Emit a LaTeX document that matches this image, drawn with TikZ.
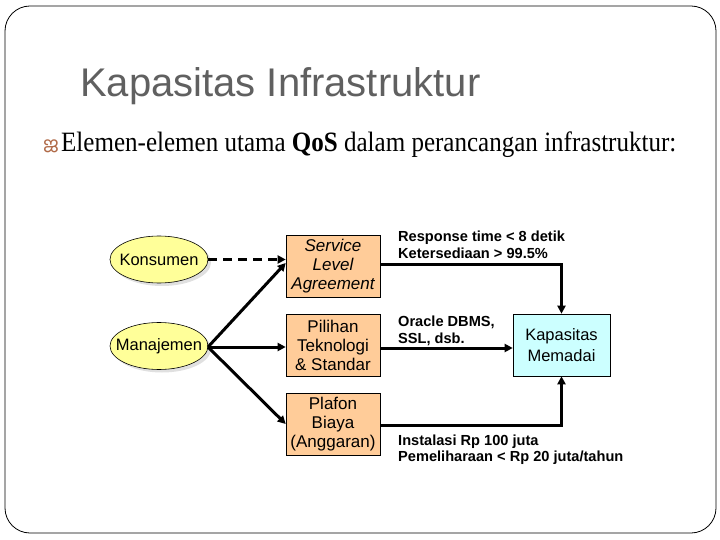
\documentclass[tikz,border=0pt]{standalone}
\usepackage{fontspec}
\setmainfont{Liberation Serif}
\setsansfont{Liberation Sans}
\newfontfamily\malfont[Script=Malayalam]{Hind Kochi}
\usetikzlibrary{shapes.geometric,arrows.meta}
\definecolor{ellfill}{HTML}{FFFF99}
\definecolor{boxfill}{HTML}{FFCC99}
\definecolor{capfill}{HTML}{CCFFFF}
\definecolor{titlegray}{HTML}{606060}
\definecolor{bulletbrown}{HTML}{B06A48}
\begin{document}
\begin{tikzpicture}[x=1pt,y=-1pt,
  ellshape/.style={draw=black,line width=0.6pt,fill=ellfill},
  ellshadow/.style={fill=black!20,opacity=0.6},
  elltext/.style={inner sep=0pt,font=\sffamily\fontsize{16.5}{18}\selectfont},
  box/.style={rectangle,draw=black,line width=0.6pt,fill=boxfill,minimum width=94pt,minimum height=62pt,inner sep=0pt,align=center,
    font=\sffamily\fontsize{17}{19}\selectfont},
  capbox/.style={rectangle,draw=black,line width=0.6pt,fill=capfill,minimum width=97pt,minimum height=62pt,inner sep=0pt,align=center,
    font=\sffamily\fontsize{16.5}{21}\selectfont},
  lbl/.style={anchor=base west,inner sep=0pt,font=\sffamily\bfseries\fontsize{14.6}{17}\selectfont},
  conn/.style={line width=3pt,-{Triangle[length=8pt,width=8pt]}},
  plain/.style={line width=3pt}]
\useasboundingbox (0,0) rectangle (720,540);
\draw[line width=0.8pt,rounded corners=25pt] (5,6) rectangle (716,533);
% titles
\node[anchor=base west,inner sep=0pt,text=titlegray,font=\sffamily\fontsize{40}{46}\selectfont] (title) at (80,97) {Kapasitas Infrastruktur};
\node[anchor=base west,inner sep=0pt,text=bulletbrown,font=\malfont\fontsize{20}{22}\selectfont] (bul) at (43,152) {ജ};
\node[anchor=base west,inner sep=0pt,font=\rmfamily\fontsize{28}{32}\selectfont] (sub) at (61,152) {\scalebox{0.894}[1]{Elemen-elemen utama \textbf{QoS} dalam perancangan infrastruktur:}};
% ellipses
\fill[ellshadow] (162,262.5) ellipse [x radius=49, y radius=23.5];
\draw[ellshape] (159,259.5) ellipse [x radius=49, y radius=23.5];
\node[elltext] (kon) at (159,259.5) {Konsumen};
\coordinate (kone) at (208,259.5);
\fill[ellshadow] (162,349) ellipse [x radius=49, y radius=23.5];
\draw[ellshape] (159,346) ellipse [x radius=49, y radius=23.5];
\node[elltext] (man) at (159,346) {Manajemen};
\coordinate (mane) at (208,347);
% boxes
\node[box] (sla) at (333,266) {\itshape Service\\\itshape Level\\\itshape Agreement};
\node[box] (pil) at (333,345) {Pilihan\\Teknologi\\\& Standar};
\node[box] (pla) at (333,424) {Plafon\\Biaya\\(Anggaran)};
\node[capbox] (kap) at (561.5,345) {Kapasitas\\Memadai};
% connectors
\draw[conn,dashed,dash pattern=on 9pt off 6pt] (kone) -- (sla.west |- kone);
\draw[conn] (mane) -- ([yshift=3pt]sla.west);
\draw[conn] (mane) -- (pil.west |- mane);
\draw[conn] (mane) -- (pla.west);
\coordinate (s1) at ([yshift=2pt]sla.east);
\coordinate (c1) at (kap.north |- s1);
\coordinate (s3) at ([yshift=-1pt]pla.east);
\coordinate (c3) at (kap.south |- s3);
\draw[plain] (s1) -- ([xshift=1.5pt]c1);
\draw[conn] (c1) -- (kap.north);
\draw[conn] ([yshift=-3pt]pil.east) -- ([yshift=-3pt]kap.west);
\draw[plain] (s3) -- ([xshift=1.5pt]c3);
\draw[conn] (c3) -- (kap.south);
% labels
\node[lbl] (l1a) at (398,241) {Response time < 8 detik};
\node[lbl] (l1b) at (398,258.7) {Ketersediaan > 99.5\%};
\node[lbl] (l2a) at (398,326.3) {Oracle DBMS,};
\node[lbl] (l2b) at (398,343) {SSL, dsb.};
\node[lbl] (l3a) at (398,445) {Instalasi Rp 100 juta};
\node[lbl] (l3b) at (398,461.7) {Pemeliharaan < Rp 20 juta/tahun};
\end{tikzpicture}
\end{document}
